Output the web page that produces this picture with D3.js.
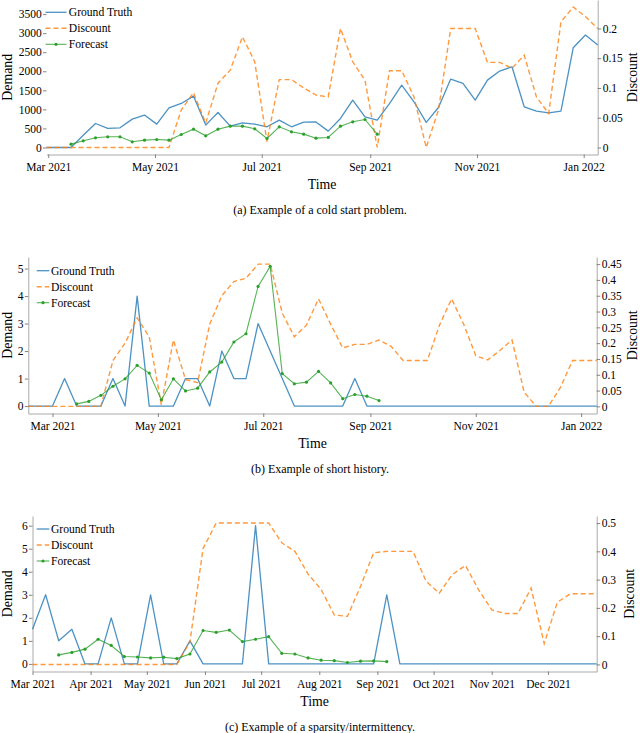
<!DOCTYPE html>
<html>
<head>
<meta charset="utf-8">
<script src="https://cdn.jsdelivr.net/npm/d3@7"></script>
<style>
  body { margin: 0; background: #fff; }
  svg text { font-family: "Liberation Serif", "Times New Roman", serif; fill: #000; }
</style>
</head>
<body>
<svg id="chart" width="640" height="733"></svg>
<script>
// ---- data (weekly points) ----
var seriesNames = ['Ground Truth', 'Discount', 'Forecast'];

// (a) cold start
var startA = '2021-02-28';
var truthA = [0, 0, 0, 320, 630, 500, 516, 744, 850, 613, 1042, 1155, 1348, 587, 919, 560, 648, 613, 543, 718,
  543, 665, 670, 429, 762, 1243, 805, 718, 1150, 1637, 1199, 657, 1050, 1795, 1681, 1243, 1768, 2005, 2118, 1068,
  954, 910, 954, 2617, 2950, 2688];
var discountA = [0, 0, 0, 0, 0, 0, 0, 0, 0, 0, 0, 0.063, 0.092, 0.041, 0.108, 0.13, 0.186, 0.144, 0.01, 0.114,
  0.114, 0.10, 0.088, 0.085, 0.2, 0.144, 0.113, 0, 0.129, 0.129, 0.085, 0, 0.063, 0.2, 0.2, 0.2, 0.143, 0.143, 0.133, 0.155,
  0.085, 0.057, 0.211, 0.236, 0.22, 0.2];
var forecastA = [null, null, 88, 175, 254, 280, 280, 149, 193, 210, 193, 341, 481, 306, 481, 560, 560, 490, 236, 543,
  411, 350, 245, 263, 560, 674, 735, 350];
var demandTicksA = [0, 500, 1000, 1500, 2000, 2500, 3000, 3500];
var discountTicksA = [0, 0.05, 0.1, 0.15, 0.2];
var demandLimA = [-184, 3870];

// (b) short history
var startB = '2021-02-15';
var truthB = [0, 0, 0, 1, 0, 0, 0, 1, 0, 4, 0, 0, 0, 1, 1, 0, 2, 1, 1, 3, 2, 1, 0, 0, 0, 0, 0, 1, 0, 0,
  0, 0, 0, 0, 0, 0, 0, 0, 0, 0, 0, 0, 0, 0, 0, 0, 0, 0];
var discountB = [0, 0, 0, 0, 0, 0, 0, 0.145, 0.2, 0.28, 0.22, 0.005, 0.21, 0.085, 0.075, 0.26, 0.35, 0.395, 0.405, 0.45,
  0.45, 0.295, 0.22, 0.257, 0.34, 0.26, 0.185, 0.196, 0.196, 0.21, 0.19, 0.145, 0.145, 0.145, 0.257, 0.34, 0.26, 0.16,
  0.147, 0.177, 0.21, 0.045, 0, 0, 0.06, 0.145, 0.145, 0.145];
var forecastB = [null, null, null, null, 0.08, 0.17, 0.39, 0.72, 0.99, 1.48, 1.2, 0.23, 0.99, 0.55, 0.65, 1.24, 1.6,
  2.33, 2.63, 4.35, 5.08, 1.18, 0.81, 0.87, 1.26, 0.84, 0.27, 0.42, 0.36, 0.2];
var demandTicksB = [0, 1, 2, 3, 4, 5];
var discountTicksB = [0, 0.05, 0.1, 0.15, 0.2, 0.25, 0.3, 0.35, 0.4, 0.45];
var demandLimB = [-0.27, 5.42];

// (c) sparsity / intermittency
var startC = '2021-03-01';
var truthC = [1.5, 3, 1, 1.5, 0, 0, 2, 0, 0, 3, 0, 0, 1, 0, 0, 0, 0, 6, 0, 0, 0, 0, 0, 0, 0, 0, 0, 3, 0, 0,
  0, 0, 0, 0, 0, 0, 0, 0, 0, 0, 0, 0, 0, 0];
var discountC = [0, 0, 0, 0, 0, 0, 0, 0, 0, 0, 0, 0, 0.08, 0.41, 0.5, 0.5, 0.5, 0.5, 0.5, 0.43, 0.40, 0.32, 0.265,
  0.175, 0.17, 0.276, 0.395, 0.4, 0.4, 0.4, 0.294, 0.252, 0.318, 0.35, 0.264, 0.193, 0.18, 0.18, 0.27, 0.074, 0.22,
  0.25, 0.25, 0.25];
var forecastC = [null, null, 0.39, 0.5, 0.64, 1.07, 0.8, 0.32, 0.3, 0.26, 0.29, 0.23, 0.43, 1.45, 1.37, 1.47, 0.97,
  1.07, 1.18, 0.46, 0.43, 0.26, 0.16, 0.14, 0.06, 0.12, 0.13, 0.1];
var demandTicksC = [0, 1, 2, 3, 4, 5, 6];
var discountTicksC = [0, 0.1, 0.2, 0.3, 0.4, 0.5];
var demandLimC = [-0.33, 6.42];

var captions = ['(a) Example of a cold start problem.', '(b) Example of short history.',
  '(c) Example of a sparsity/intermittency.'];

// ---- styles ----
var blue = '#1f77b4', orange = '#ff7f0e', green = '#2ca02c';
var spineColor = '#a0a0a0', tickColor = '#666';
var parseDay = d3.utcParse('%Y-%m-%d');

var panels = [
  { start: startA, truth: truthA, discount: discountA, forecast: forecastA,
    demandTicks: demandTicksA, discountTicks: discountTicksA, demandLim: demandLimA, caption: captions[0],
    left: 46.5, right: 597.7, top: 0, bottom: 154.5, monthStep: 2, leftSpine: false, discountX: 637,
    legend: { x0: 45.5, x1: 66.5, tx: 68.8, y: 12.3 } },
  { start: startB, truth: truthB, discount: discountB, forecast: forecastB,
    demandTicks: demandTicksB, discountTicks: discountTicksB, demandLim: demandLimB, caption: captions[1],
    left: 28.3, right: 596.7, top: 257, bottom: 413.5, monthStep: 2, leftSpine: true, discountX: 637,
    legend: { x0: 36.7, x1: 49.3, tx: 51, y: 270.7 } },
  { start: startC, truth: truthC, discount: discountC, forecast: forecastC,
    demandTicks: demandTicksC, discountTicks: discountTicksC, demandLim: demandLimC, caption: captions[2],
    left: 32.5, right: 596.7, top: 516, bottom: 671.5, monthStep: 1, leftSpine: true, discountX: 633.5,
    legend: { x0: 36.7, x1: 49.3, tx: 51, y: 529 } }
];

var svg = d3.select('#chart');

function styleAxis(sel) {
  sel.attr('font-family', null).attr('font-size', null);
  sel.select('.domain').attr('stroke', spineColor).attr('stroke-width', 0.9);
  sel.selectAll('.tick line').attr('stroke', tickColor).attr('stroke-width', 0.8);
  sel.selectAll('.tick text').attr('font-size', 11.5).attr('fill', '#000');
}

function drawPanel(p) {
  var dates = p.truth.map(function(d, i) { return d3.utcWeek.offset(parseDay(p.start), i); });
  var x = d3.scaleUtc().domain(d3.extent(dates)).range([p.left, p.right]);
  var yL = d3.scaleLinear().domain(p.demandLim).range([p.bottom, p.top]);
  var ext = d3.extent(p.discount), pad = (ext[1] - ext[0]) * 0.05;
  var yR = d3.scaleLinear().domain([ext[0] - pad, ext[1] + pad]).range([p.bottom, p.top]);

  var g = svg.append('g');

  var xAxis = g.append('g')
    .attr('transform', 'translate(0,' + p.bottom + ')')
    .call(d3.axisBottom(x).ticks(d3.utcMonth.every(p.monthStep)).tickFormat(d3.utcFormat('%b %Y'))
      .tickSize(3.5).tickSizeOuter(0).tickPadding(4.8));
  styleAxis(xAxis);

  var leftAxis = g.append('g')
    .attr('transform', 'translate(' + p.left + ',0)')
    .call(d3.axisLeft(yL).tickValues(p.demandTicks).tickFormat(d3.format('~g'))
      .tickSize(3.5).tickSizeOuter(0).tickPadding(1.3));
  styleAxis(leftAxis);
  if (!p.leftSpine) leftAxis.select('.domain').remove();

  var rightAxis = g.append('g')
    .attr('transform', 'translate(' + p.right + ',0)')
    .call(d3.axisRight(yR).tickValues(p.discountTicks).tickFormat(d3.format('~g'))
      .tickSize(3.5).tickSizeOuter(0).tickPadding(1.5));
  styleAxis(rightAxis);

  // series
  function rows(arr) {
    return arr.map(function(v, i) { return { date: dates[i], v: v }; });
  }
  function lineFor(y) {
    return d3.line()
      .defined(function(d) { return d.v != null; })
      .x(function(d) { return x(d.date); })
      .y(function(d) { return y(d.v); });
  }

  g.append('path').datum(rows(p.truth))
    .attr('fill', 'none').attr('stroke', blue).attr('stroke-opacity', 0.8)
    .attr('stroke-width', 1.3).attr('stroke-linejoin', 'round')
    .attr('d', lineFor(yL));

  g.append('path').datum(rows(p.discount))
    .attr('fill', 'none').attr('stroke', orange).attr('stroke-opacity', 0.8)
    .attr('stroke-width', 1.4).attr('stroke-dasharray', '5,3')
    .attr('d', lineFor(yR));

  var fc = rows(p.forecast).filter(function(d) { return d.v != null; });
  g.append('path').datum(fc)
    .attr('fill', 'none').attr('stroke', green).attr('stroke-opacity', 0.8)
    .attr('stroke-width', 1.1)
    .attr('d', lineFor(yL));
  g.selectAll('circle.fc').data(fc).enter().append('circle')
    .attr('class', 'fc')
    .attr('cx', function(d) { return x(d.date); })
    .attr('cy', function(d) { return yL(d.v); })
    .attr('r', 1.6)
    .attr('fill', green);

  // labels
  g.append('text')
    .attr('x', (p.left + p.right) / 2).attr('y', p.bottom + 34.5)
    .attr('text-anchor', 'middle').attr('font-size', 13.8)
    .text('Time');
  g.append('text')
    .attr('transform', 'translate(11.7,' + (p.top + p.bottom) / 2 + ') rotate(-90)')
    .attr('text-anchor', 'middle').attr('font-size', 13.8)
    .text('Demand');
  g.append('text')
    .attr('transform', 'translate(' + p.discountX + ',' + (p.top + p.bottom) / 2 + ') rotate(-90)')
    .attr('text-anchor', 'middle').attr('font-size', 13.8)
    .text('Discount');
  g.append('text')
    .attr('x', 320).attr('y', p.bottom + 59.5)
    .attr('text-anchor', 'middle').attr('font-size', 12)
    .text(p.caption);

  // legend
  var lg = p.legend;
  var styles = [
    { color: blue, dash: null, width: 1.3, marker: false },
    { color: orange, dash: '5,3', width: 1.4, marker: false },
    { color: green, dash: null, width: 1.1, marker: true }
  ];
  var item = g.append('g').selectAll('g').data(seriesNames).enter().append('g')
    .attr('transform', function(d, i) { return 'translate(0,' + (lg.y + i * 16) + ')'; });
  item.append('line')
    .attr('x1', lg.x0).attr('x2', lg.x1)
    .attr('stroke', function(d, i) { return styles[i].color; })
    .attr('stroke-opacity', 0.8)
    .attr('stroke-width', function(d, i) { return styles[i].width; })
    .attr('stroke-dasharray', function(d, i) { return styles[i].dash; });
  item.filter(function(d, i) { return styles[i].marker; }).append('circle')
    .attr('cx', (lg.x0 + lg.x1) / 2).attr('cy', 0).attr('r', 1.6).attr('fill', green);
  item.append('text')
    .attr('x', lg.tx).attr('y', 3.8)
    .attr('font-size', 11.6)
    .text(function(d) { return d; });
}

panels.forEach(drawPanel);
</script>
</body>
</html>
